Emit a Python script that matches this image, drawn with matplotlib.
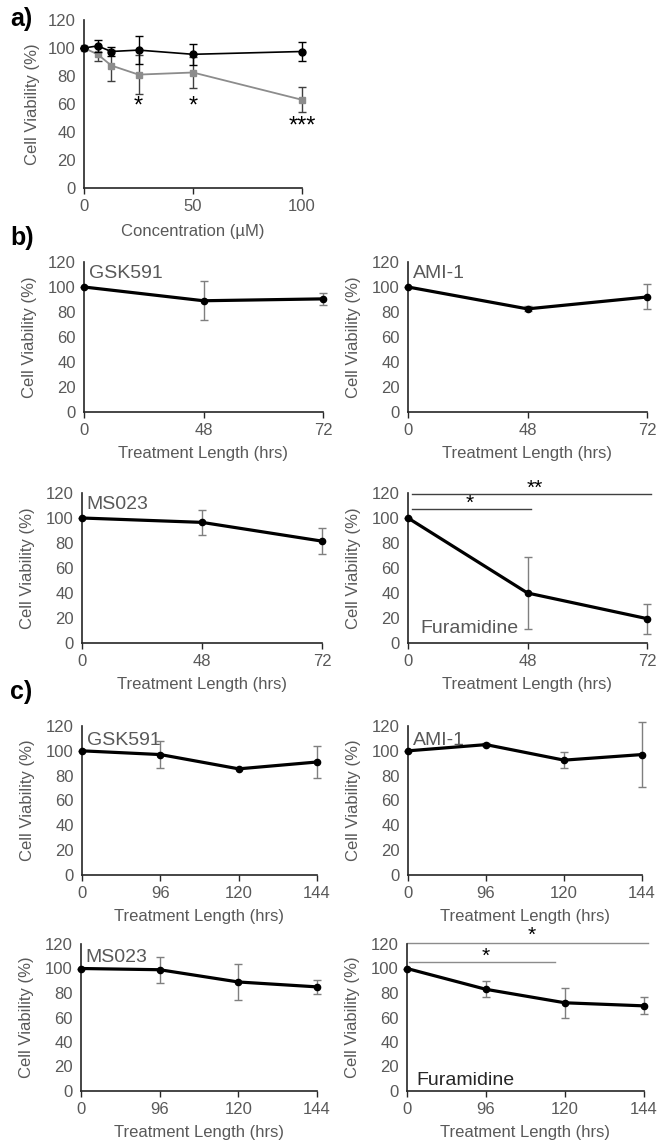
import numpy as np
import matplotlib.pyplot as plt

plt.rcParams['font.family'] = ['Liberation Sans', 'DejaVu Sans']

W, H = 657, 1142
GRAY_TXT = '#595959'
AXCOL = '#262626'

# panel a: concentration response
conc = [0, 6.25, 12.5, 25, 50, 100]
black_mean = [100, 101.5, 97.5, 98.5, 95.5, 97.5]
black_err = [0, 4, 3.3, 10, 7.5, 6.5]
gray_mean = [100, 95.5, 87.5, 81, 82.5, 63]
gray_err = [0, 5, 11, 14, 11, 9]
a_stars = [(25, '*'), (50, '*'), (100, '***')]

# panel b: 0/48/72 hrs
b_times = ['0', '48', '72']
b_names = ['GSK591', 'AMI-1', 'MS023', 'Furamidine']
b_mean = {'GSK591': [100, 89, 90.5],
          'AMI-1': [100, 82.5, 92],
          'MS023': [100, 96.5, 81.5],
          'Furamidine': [100, 40, 19.5]}
b_err = {'GSK591': [0, 15.5, 5],
         'AMI-1': [0, 2, 10],
         'MS023': [0, 10, 10.5],
         'Furamidine': [0, 29, 12]}

# panel c: 0/96/120/144 hrs
c_times = ['0', '96', '120', '144']
c_names = ['GSK591', 'AMI-1', 'MS023', 'Furamidine']
c_mean = {'GSK591': [100, 97, 85.5, 91],
          'AMI-1': [100, 105, 92.5, 97],
          'MS023': [100, 99, 89, 85],
          'Furamidine': [100, 83, 72, 69.5]}
c_err = {'GSK591': [0, 11, 0.5, 12.5],
         'AMI-1': [0, 1, 6.5, 26],
         'MS023': [0, 10.5, 15, 5.5],
         'Furamidine': [0, 6.5, 12, 7]}


def rect(l, t, r, b):
    return [l / W, 1 - b / H, (r - l) / W, (b - t) / H]


def style_axes(ax):
    for s in ['top', 'right']:
        ax.spines[s].set_visible(False)
    for s in ['left', 'bottom']:
        ax.spines[s].set_color(AXCOL)
        ax.spines[s].set_linewidth(1.2)
    ax.set_ylim(0, 120)
    ax.set_yticks(range(0, 121, 20))
    ax.tick_params(axis='y', length=0, pad=6, labelsize=12, labelcolor=GRAY_TXT)
    ax.tick_params(axis='x', length=4, width=1, color=AXCOL, direction='out',
                   pad=4, labelsize=12, labelcolor=GRAY_TXT)
    ax.set_ylabel('Cell Viability (%)', fontsize=12, color=GRAY_TXT)


fig = plt.figure(figsize=(W / 100, H / 100), dpi=100)

# ---- a)
ax = fig.add_axes(rect(84, 20, 302, 188))
style_axes(ax)
ax.errorbar(conc, gray_mean, yerr=gray_err, color='#8c8c8c', marker='s', ms=5,
            lw=1.3, capsize=3, elinewidth=1, ecolor='#404040', clip_on=False, zorder=3)
ax.errorbar(conc, black_mean, yerr=black_err, color='black', marker='o', ms=5,
            lw=1.2, capsize=3, elinewidth=1, ecolor='black', clip_on=False, zorder=4)
ax.set_xlim(0, 100)
ax.set_xticks([0, 50, 100])
ax.set_xlabel('Concentration (µM)', fontsize=12, color=GRAY_TXT, labelpad=7)
ax.yaxis.set_label_coords(-44 / 218, 0.5)
for x, s in a_stars:
    ax.text(x, 58 if len(s) == 1 else 44, s, ha='center', va='center',
            fontsize=17, color='black')
fig.text(10 / W, 1 - 19 / H, 'a)', fontsize=18, fontweight='bold', va='center')


def time_panel(box, labels, mean, err, name, namepos, namecol):
    ax = fig.add_axes(rect(*box))
    style_axes(ax)
    xs = np.arange(len(labels))
    ax.errorbar(xs, mean, yerr=err, fmt='none', ecolor='#7f7f7f', elinewidth=1,
                capsize=3, clip_on=False, zorder=2)
    ax.plot(xs, mean, color='black', lw=2.3, marker='o', ms=4.5, clip_on=False, zorder=3)
    ax.set_xlim(0, len(labels) - 1)
    ax.set_xticks(xs)
    ax.set_xticklabels(labels)
    ax.set_xlabel('Treatment Length (hrs)', fontsize=12, color=GRAY_TXT, labelpad=6)
    ax.yaxis.set_label_coords(-47 / (box[2] - box[0]), 0.5)
    ax.text(namepos[0], namepos[1], name, fontsize=14, color=namecol,
            ha='left', va='baseline')
    return ax


# ---- b)
b_boxes = [(84, 262, 323, 412), (408, 262, 647, 412),
           (82, 493, 322, 643), (408, 493, 647, 643)]
b_axes = []
for name, box in zip(b_names, b_boxes):
    pos = (0.1, 8) if name == 'Furamidine' else (0.04, 107)
    b_axes.append(time_panel(box, b_times, b_mean[name], b_err[name], name, pos, GRAY_TXT))
axf = b_axes[3]
axf.plot([0.03, 1.03], [107, 107], color='#404040', lw=1, clip_on=False)
axf.plot([0.03, 2.03], [119, 119], color='#404040', lw=1, clip_on=False)
axf.text(0.52, 104.5, '*', ha='center', va='bottom', fontsize=15)
axf.text(1.06, 116.5, '**', ha='center', va='bottom', fontsize=15)
fig.text(10 / W, 1 - 238 / H, 'b)', fontsize=18, fontweight='bold', va='center')

# ---- c)
c_boxes = [(82, 726, 317, 875), (408, 726, 642, 875),
           (81, 944, 317, 1091), (407, 944, 644, 1091)]
c_axes = []
for name, box in zip(c_names, c_boxes):
    if name == 'Furamidine':
        pos, col = (0.12, 5), '#262626'
    else:
        pos, col = (0.06, 105), GRAY_TXT
    c_axes.append(time_panel(box, c_times, c_mean[name], c_err[name], name, pos, col))
axf = c_axes[3]
axf.plot([0.03, 1.87], [105, 105], color='#8c8c8c', lw=1, clip_on=False)
axf.plot([0.0, 3.05], [120.5, 120.5], color='#8c8c8c', lw=1, clip_on=False)
axf.text(1.0, 102.5, '*', ha='center', va='bottom', fontsize=15)
axf.text(1.58, 119, '*', ha='center', va='bottom', fontsize=15)
fig.text(10 / W, 1 - 692 / H, 'c)', fontsize=18, fontweight='bold', va='center')

fig.savefig('out.png', dpi=100)
